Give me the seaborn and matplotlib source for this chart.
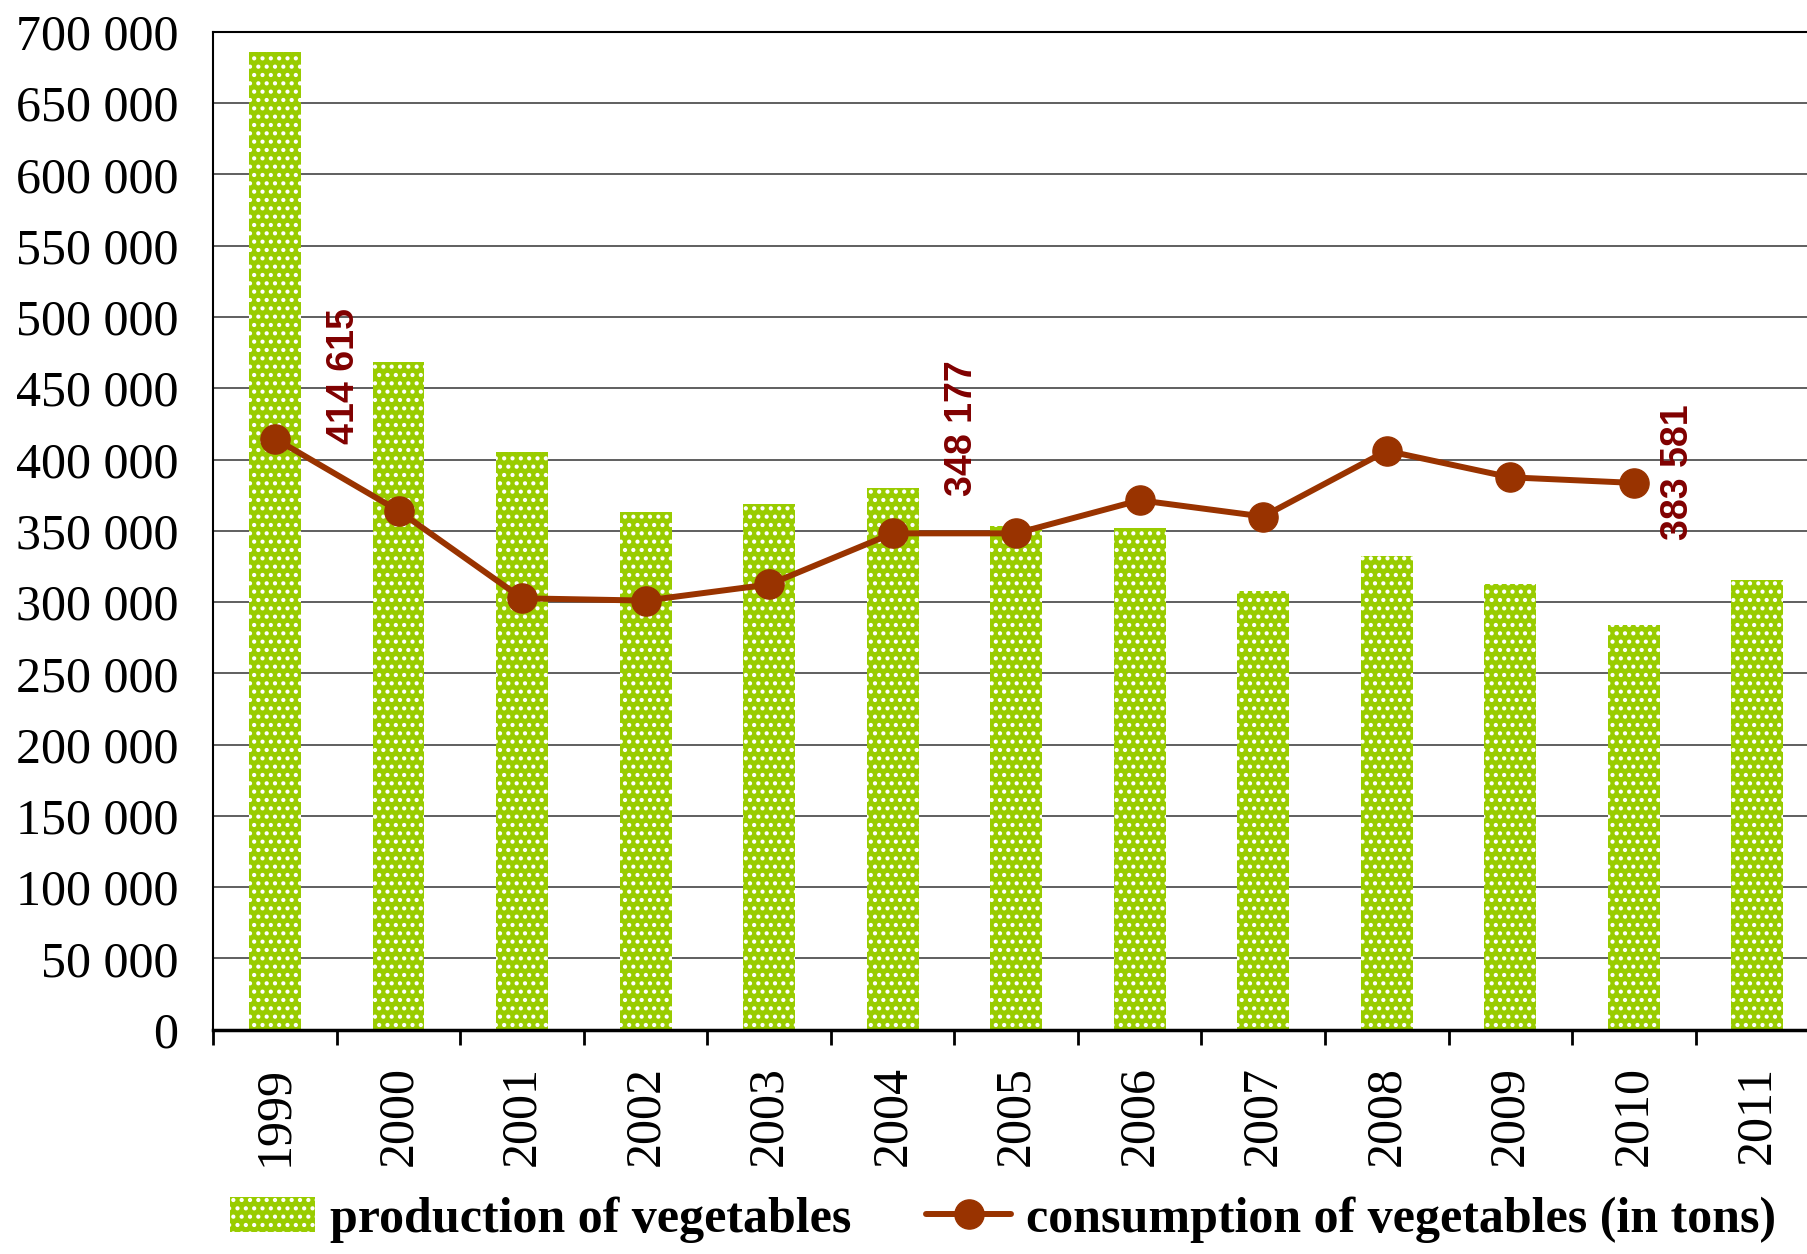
import numpy as np
import pandas as pd
import matplotlib
matplotlib.use("Agg")
import matplotlib.pyplot as plt
from matplotlib.ticker import FuncFormatter, FixedLocator
from matplotlib.lines import Line2D
from matplotlib.patches import Patch
import seaborn as sns

years = ["1999", "2000", "2001", "2002", "2003", "2004", "2005",
         "2006", "2007", "2008", "2009", "2010", "2011"]
production = [686000, 468400, 405300, 363300, 368900, 380300, 353600,
              352000, 307400, 332500, 312300, 284000, 315500]
consumption = [414615, 364000, 302600, 301000, 312300, 348177, 348177,
               371400, 360000, 406100, 387500, 383581, np.nan]
labelled = {0: "414 615", 5: "348 177", 11: "383 581"}
label_offsets = {0: (50, -4), 5: (50, 27), 11: (32, -41)}

GREEN = "#99CC00"
BROWN = "#993300"
LABEL_RED = "#800000"

sns.set_style("white")
plt.rcParams["font.family"] = ["Liberation Serif", "DejaVu Serif"]
plt.rcParams["hatch.linewidth"] = 1.8
plt.rcParams["text.color"] = "black"
plt.rcParams["xtick.color"] = "black"
plt.rcParams["ytick.color"] = "black"

df = pd.DataFrame({"year": years, "production": production, "consumption": consumption})

fig = plt.figure(figsize=(18.07, 12.54), dpi=100)
ax = fig.add_axes([0.118, 0.179, 0.8887, 0.7955])

sns.barplot(data=df, x="year", y="production", color=GREEN, width=0.42,
            saturation=1, ax=ax, zorder=2)
for p in ax.patches:
    p.set_hatch("..")
    p.set_edgecolor("white")
    p.set_linewidth(0)

ax.plot(range(len(years)), consumption, color=BROWN, lw=4.3, marker="o",
        markersize=21, zorder=4)

for i, txt in labelled.items():
    dx, dy = label_offsets[i]
    ax.annotate(txt, (i, consumption[i]), xytext=(dx, dy), textcoords="offset points",
                rotation=90, ha="center", va="bottom", fontsize=27,
                fontweight="bold", color=LABEL_RED, family="Liberation Sans")

ax.set_ylim(0, 700000)
ax.set_xlim(-0.5, len(years) - 0.5)
ax.set_yticks(np.arange(0, 700001, 50000))
ax.yaxis.set_major_formatter(FuncFormatter(lambda v, _: f"{int(v):,}".replace(",", " ")))
ax.grid(axis="y", color="#444444", lw=1.2, zorder=0)
ax.set_axisbelow(True)

ax.xaxis.set_minor_locator(FixedLocator(np.arange(-0.5, len(years) - 0.5, 1)))
ax.tick_params(axis="x", which="major", length=0, pad=26, labelsize=36, labelrotation=90)
ax.tick_params(axis="x", which="minor", length=10.5, width=2, direction="out",
               color="black", bottom=True)
ax.tick_params(axis="y", length=0, pad=25, labelsize=36)
ax.set_xlabel("")
ax.set_ylabel("")

ax.spines["right"].set_visible(False)
ax.spines["top"].set_color("black")
ax.spines["top"].set_linewidth(1.5)
ax.spines["left"].set_color("black")
ax.spines["left"].set_linewidth(1.5)
ax.spines["bottom"].set_color("black")
ax.spines["bottom"].set_linewidth(2.5)

handles = [Patch(facecolor=GREEN, edgecolor="white", hatch="..", linewidth=0),
           Line2D([0], [0], color=BROWN, lw=4.3, marker="o", markersize=21)]
fig.legend(handles, ["production of vegetables", "consumption of vegetables (in tons)"],
           loc="lower center", bbox_to_anchor=(0.555, -0.027), ncol=2, frameon=False,
           prop={"family": "Liberation Serif", "weight": "bold", "size": 36},
           handlelength=1.7, handletextpad=0.3, columnspacing=1.5)

fig.savefig("out.png", dpi=100)
